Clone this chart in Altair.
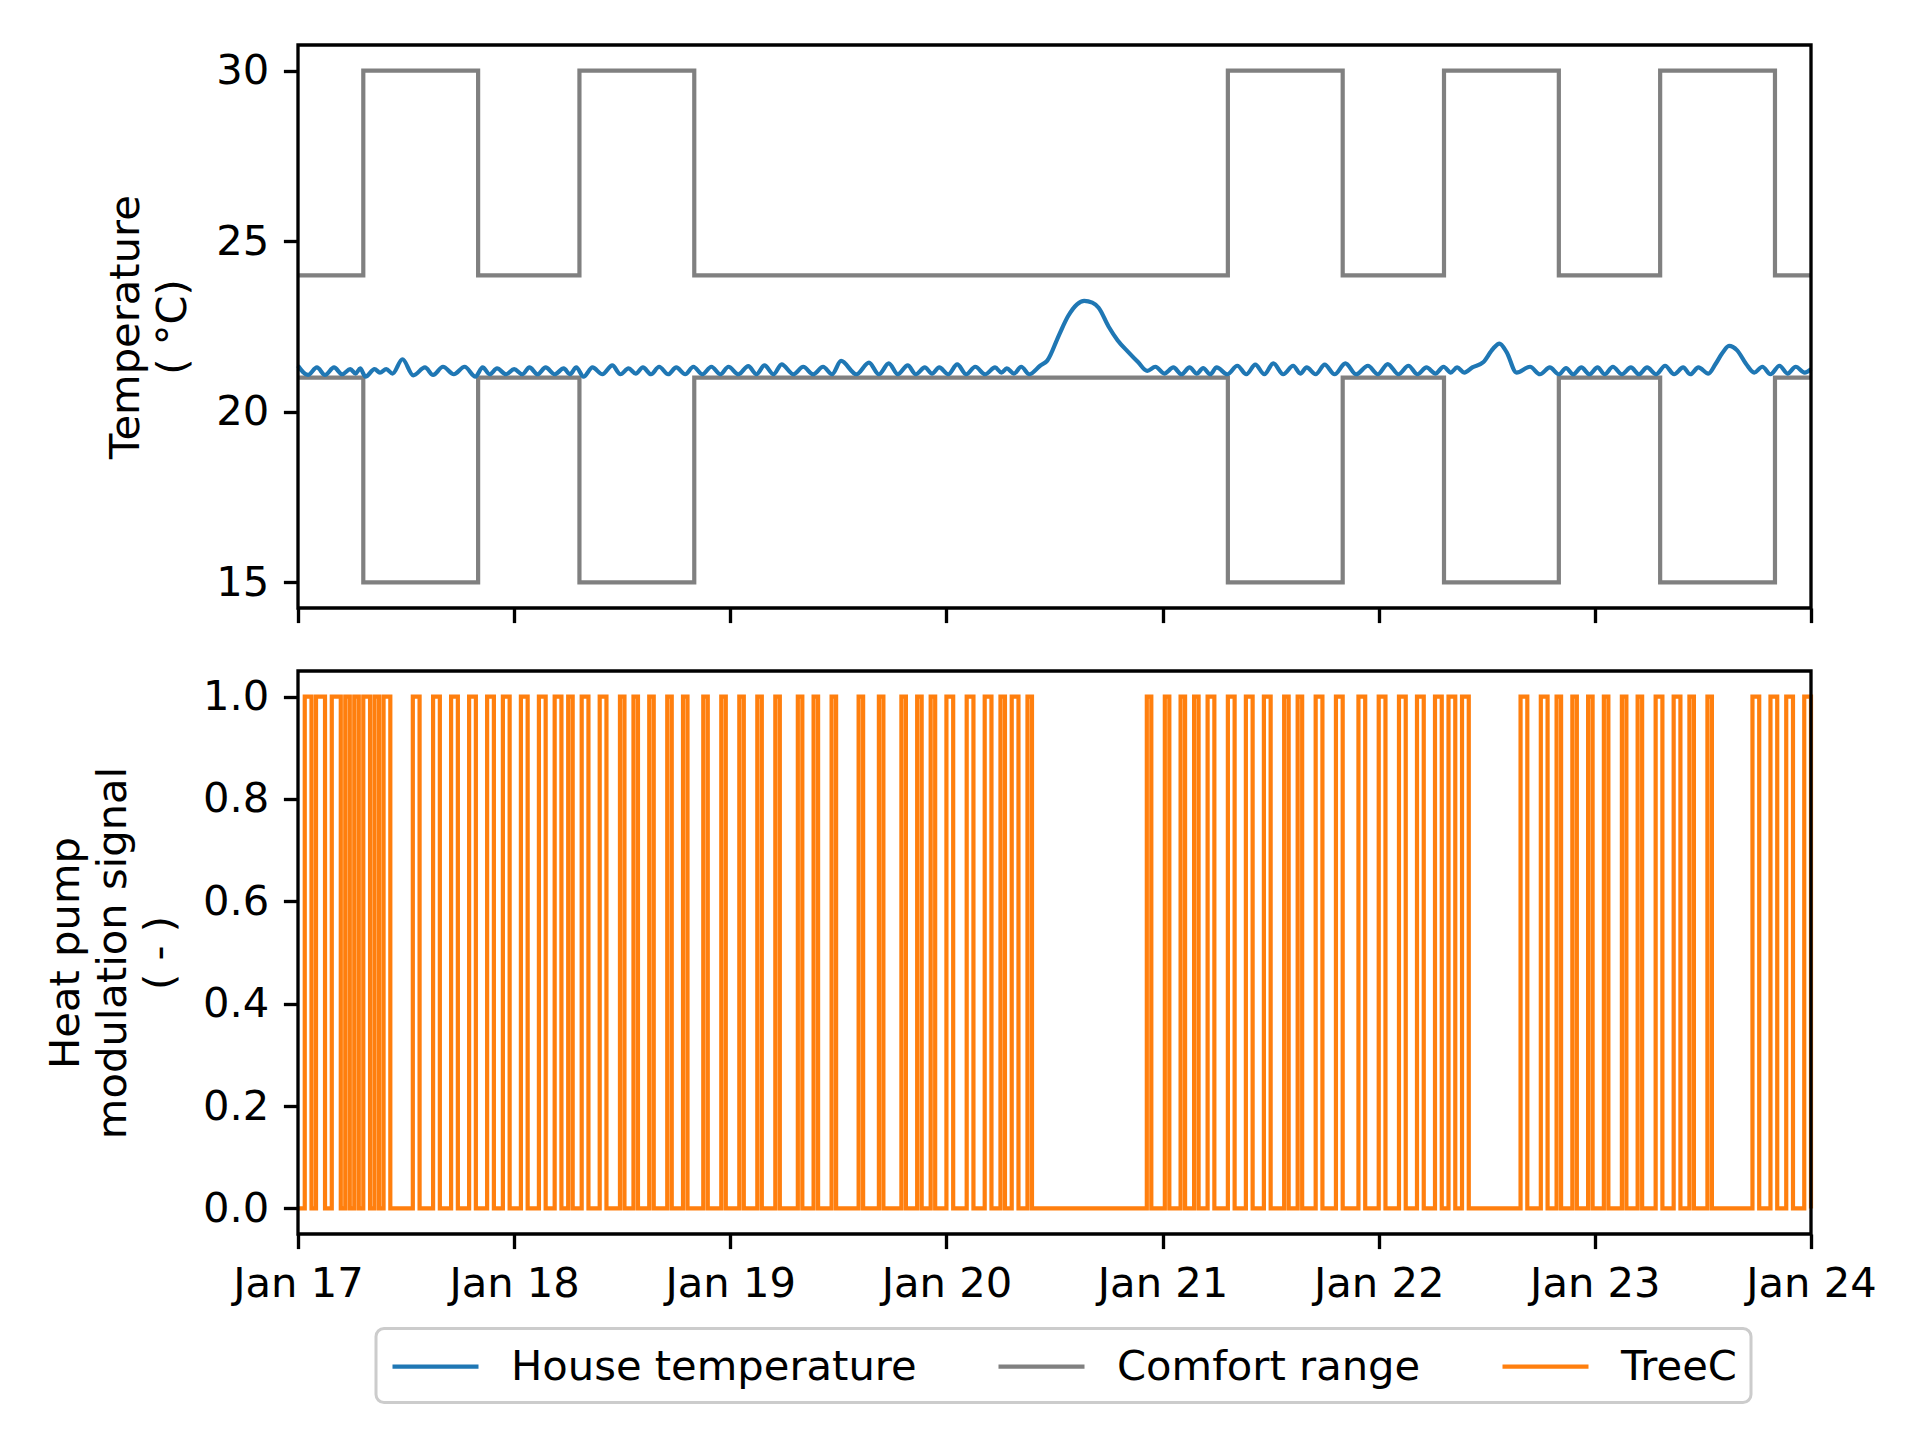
import altair as alt
import pandas as pd

# ---------------- data (hours from Jan 17 00:00) ----------------
BASE = pd.Timestamp("2019-01-17 00:00")
END_HOUR = 168.0

series_names = ["House temperature", "Comfort range", "TreeC"]
series_colors = ["#1f77b4", "#808080", "#ff7f0e"]

# comfort range: wide band periods (start, end hours)
comfort_wide_start_h = [7.25, 31.25, 103.25, 127.25, 151.25]
comfort_wide_end_h = [20.0, 44.0, 116.0, 140.0, 164.0]
comfort_upper = {"narrow": 24.0, "wide": 30.0}
comfort_lower = {"narrow": 21.0, "wide": 15.0}

# heat pump ON pulses: start hour and duration (hours)
pulse_start_day17 = [0.75, 2.0, 3.75, 5.25, 6.25, 7.25, 8.5, 9.5, 12.75, 15.0, 17.0, 19.0, 21.0, 22.75]
pulse_len_day17 = [0.75, 1.0, 1.0, 0.5, 0.5, 0.75, 0.5, 0.75, 0.75, 0.75, 0.75, 0.75, 0.75, 0.75]
pulse_start_day18 = [24.75, 26.75, 28.5, 30.0, 31.5, 33.5, 35.75, 37.25, 39.0, 41.0, 42.75, 45.0, 47.0]
pulse_len_day18 = [0.75, 0.75, 0.75, 0.5, 0.75, 0.75, 0.5, 0.5, 0.5, 0.5, 0.5, 0.5, 0.5]
pulse_start_day19 = [49.0, 51.0, 53.0, 55.5, 57.25, 59.25, 62.25, 64.5, 67.0, 68.75, 70.25]
pulse_len_day19 = [0.5, 0.5, 0.5, 0.5, 0.5, 0.5, 0.5, 0.5, 0.5, 0.5, 0.5]
pulse_start_day20 = [72.0, 74.25, 76.25, 78.0, 79.25, 81.0, 94.25]
pulse_len_day20 = [0.75, 0.75, 0.75, 0.5, 0.75, 0.5, 0.5]
pulse_start_day21 = [96.25, 98.0, 99.5, 101.0, 103.25, 105.25, 107.25, 109.5, 111.0, 113.0, 115.25, 117.75]
pulse_len_day21 = [0.5, 0.5, 0.5, 0.75, 0.75, 0.75, 0.75, 0.5, 0.5, 0.75, 0.75, 0.75]
pulse_start_day22 = [120.0, 122.25, 124.25, 126.25, 127.75, 129.25, 135.75, 138.0, 139.75, 141.5, 143.25]
pulse_len_day22 = [0.75, 0.75, 0.75, 0.75, 0.75, 0.75, 0.75, 0.75, 0.5, 0.5, 0.5]
pulse_start_day23 = [145.0, 147.0, 148.75, 150.75, 152.75, 154.5, 156.5, 161.5, 163.5, 165.25, 167.25]
pulse_len_day23 = [0.5, 0.5, 0.5, 0.75, 0.75, 0.5, 0.5, 0.75, 0.75, 0.75, 0.75]

# house temperature key points (hour, degC)
temp_hours_17_18 = [0.0, 1.1, 2.1, 3.0, 4.0, 4.9, 5.8, 6.4, 6.9, 7.5, 8.5, 9.1, 9.8, 10.5, 11.6, 12.8,
                    14.1, 15.0, 16.1, 17.3, 18.5, 19.7, 20.5, 21.3, 22.1, 23.1, 24.0, 24.9, 25.7, 26.6,
                    27.5, 28.5, 29.5, 30.2, 30.9, 31.7, 32.7, 33.8, 34.9, 35.8, 36.7, 37.5, 38.3, 39.2,
                    40.1, 41.1, 42.0, 43.0, 43.9, 44.9, 45.9, 46.9, 47.8]
temp_values_17_18 = [21.35, 21.08, 21.30, 21.08, 21.30, 21.10, 21.25, 21.12, 21.27, 21.03, 21.25, 21.15,
                     21.25, 21.12, 21.54, 21.07, 21.30, 21.08, 21.32, 21.10, 21.32, 21.03, 21.30, 21.10,
                     21.27, 21.10, 21.25, 21.10, 21.30, 21.10, 21.30, 21.10, 21.27, 21.10, 21.30, 21.03,
                     21.30, 21.10, 21.36, 21.10, 21.27, 21.12, 21.30, 21.10, 21.32, 21.10, 21.30, 21.10,
                     21.32, 21.10, 21.32, 21.10, 21.32]
temp_hours_19_20 = [48.9, 50.0, 50.9, 51.8, 52.8, 53.7, 55.0, 56.1, 57.2, 58.3, 59.3, 60.3, 62.0, 63.4,
                    64.5, 65.6, 66.6, 67.7, 68.6, 69.6, 70.4, 71.2, 72.2, 73.2, 74.2, 75.2, 76.3, 77.4,
                    78.1, 78.7, 79.5, 80.3, 81.2, 82.4, 83.2, 84.5, 85.5, 86.5, 87.3, 88.2, 88.9, 90.0,
                    91.0, 92.2, 93.3, 94.3, 95.2]
temp_values_19_20 = [21.10, 21.34, 21.10, 21.36, 21.10, 21.39, 21.10, 21.32, 21.10, 21.32, 21.10, 21.49,
                     21.10, 21.44, 21.10, 21.42, 21.10, 21.36, 21.10, 21.30, 21.12, 21.30, 21.10, 21.39,
                     21.10, 21.32, 21.10, 21.30, 21.15, 21.27, 21.12, 21.32, 21.10, 21.35, 21.50, 22.25,
                     22.80, 23.15, 23.25, 23.20, 23.05, 22.50, 22.10, 21.75, 21.45, 21.20, 21.32]
temp_hours_21_22 = [96.2, 97.2, 98.1, 99.0, 99.8, 100.5, 101.3, 102.0, 103.2, 104.3, 105.3, 106.3, 107.3,
                    108.3, 109.4, 110.5, 111.3, 112.0, 113.0, 114.0, 115.1, 116.3, 117.5, 118.8, 119.9,
                    121.0, 122.2, 123.3, 124.3, 125.3, 126.3, 127.2, 128.0, 128.7, 129.5, 130.4, 131.6,
                    132.7, 133.4, 134.2, 135.3, 136.8, 137.9, 139.0, 140.0, 140.8, 141.6, 142.5, 143.4]
temp_values_21_22 = [21.12, 21.30, 21.10, 21.30, 21.12, 21.28, 21.10, 21.30, 21.10, 21.35, 21.10, 21.38,
                     21.10, 21.42, 21.10, 21.35, 21.12, 21.30, 21.10, 21.38, 21.10, 21.42, 21.10, 21.35,
                     21.10, 21.40, 21.10, 21.35, 21.10, 21.30, 21.12, 21.32, 21.15, 21.30, 21.15, 21.30,
                     21.45, 21.85, 22.00, 21.75, 21.15, 21.32, 21.10, 21.30, 21.10, 21.28, 21.10, 21.30,
                     21.10]
temp_hours_23 = [144.3, 145.1, 146.0, 147.0, 148.0, 148.9, 149.8, 150.8, 151.8, 152.8, 153.8, 154.6,
                 155.5, 156.6, 157.4, 158.1, 158.9, 159.8, 160.8, 161.7, 162.6, 163.5, 164.5, 165.4,
                 166.3, 167.3, 168.0]
temp_values_23 = [21.30, 21.10, 21.32, 21.10, 21.30, 21.10, 21.30, 21.10, 21.35, 21.10, 21.30, 21.10,
                  21.30, 21.12, 21.40, 21.70, 21.93, 21.80, 21.40, 21.15, 21.32, 21.10, 21.35, 21.12,
                  21.32, 21.15, 21.25]

temp_ticks = [15, 20, 25, 30]
signal_ticks = [0.0, 0.2, 0.4, 0.6, 0.8, 1.0]


def ts(h):
    return BASE + pd.Timedelta(hours=h)


# ---------------- tables ----------------
rows = []
for h, v in zip(temp_hours_17_18 + temp_hours_19_20 + temp_hours_21_22 + temp_hours_23,
                temp_values_17_18 + temp_values_19_20 + temp_values_21_22 + temp_values_23):
    rows.append({"time": ts(h), "value": v, "series": "House temperature"})
temp_df = pd.DataFrame(rows)

rows = []
for bound, lev in (("upper", comfort_upper), ("lower", comfort_lower)):
    rows.append({"time": ts(0.0), "value": lev["narrow"], "bound": bound})
    for s, e in zip(comfort_wide_start_h, comfort_wide_end_h):
        rows.append({"time": ts(s), "value": lev["wide"], "bound": bound})
        rows.append({"time": ts(e), "value": lev["narrow"], "bound": bound})
    rows.append({"time": ts(END_HOUR), "value": lev["narrow"], "bound": bound})
comfort_df = pd.DataFrame(rows)
comfort_df["series"] = "Comfort range"

starts = (pulse_start_day17 + pulse_start_day18 + pulse_start_day19 + pulse_start_day20 +
          pulse_start_day21 + pulse_start_day22 + pulse_start_day23)
lens = (pulse_len_day17 + pulse_len_day18 + pulse_len_day19 + pulse_len_day20 +
        pulse_len_day21 + pulse_len_day22 + pulse_len_day23)
rows = [{"time": ts(0.0), "value": 0.0}]
for s, d in zip(starts, lens):
    rows.append({"time": ts(s), "value": 1.0})
    rows.append({"time": ts(min(s + d, END_HOUR)), "value": 0.0})
if rows[-1]["time"] < ts(END_HOUR):
    rows.append({"time": ts(END_HOUR), "value": 0.0})
pulse_df = pd.DataFrame(rows)
pulse_df["series"] = "TreeC"

# ---------------- styling ----------------
FS = 41.67
LW = 4.2
W, H = 1513, 563
TICK = 14.6

x_scale = alt.Scale(domain=[alt.DateTime(year=2019, month=1, date=17),
                            alt.DateTime(year=2019, month=1, date=24)])
color_scale = alt.Scale(domain=series_names, range=series_colors)
legend = alt.Legend(orient="none", legendX=78, legendY=1283.5, direction="horizontal", title=None,
                    symbolType="M-1,0H3", symbolSize=1849, symbolStrokeWidth=LW, labelFontSize=FS,
                    labelFont="DejaVu Sans", labelOffset=73, columnPadding=73, padding=14,
                    strokeColor="#cccccc", cornerRadius=8, fillColor="white", labelColor="black",
                    labelLimit=2000, symbolOpacity=1)
color = alt.Color("series:N", scale=color_scale, legend=legend)

x_top = alt.X("time:T", scale=x_scale, title=None,
              axis=alt.Axis(labels=False, tickCount=alt.TimeIntervalStep(interval="day", step=1)))
x_bot = alt.X("time:T", scale=x_scale, title=None,
              axis=alt.Axis(format="%b %d", labelFlush=False, labelOverlap=False,
                            tickCount=alt.TimeIntervalStep(interval="day", step=1)))

frame_data = alt.Data(values=[{"a": 1}])


def frame():
    return alt.Chart(frame_data).mark_rect(filled=False, stroke="black", strokeWidth=3.33).encode(
        x=alt.value(0), x2=alt.value(W), y=alt.value(0), y2=alt.value(H))


comfort = alt.Chart(comfort_df).mark_line(interpolate="step-after", strokeWidth=LW).encode(
    x=x_top,
    y=alt.Y("value:Q", scale=alt.Scale(domain=[14.25, 30.75], nice=False, zero=False),
            axis=alt.Axis(values=temp_ticks, title=["Temperature", "( °C)"])),
    color=color, detail="bound:N")
house = alt.Chart(temp_df).mark_line(interpolate="monotone", strokeWidth=LW).encode(
    x=x_top, y="value:Q", color=color)
top = alt.layer(comfort, house, frame()).properties(width=W, height=H)

signal = alt.Chart(pulse_df).mark_line(interpolate="step-after", strokeWidth=LW).encode(
    x=x_bot,
    y=alt.Y("value:Q", scale=alt.Scale(domain=[-0.05, 1.05], nice=False, zero=False),
            axis=alt.Axis(values=signal_ticks, format=".1f",
                          title=["Heat pump", "modulation signal", "( - )"])),
    color=color)
bottom = alt.layer(signal, frame()).properties(width=W, height=H)

chart = alt.vconcat(top, bottom, spacing=44).resolve_scale(color="shared").properties(
    padding={"left": 37, "top": 35, "right": 0, "bottom": 10}
).configure(font="DejaVu Sans").configure_view(strokeWidth=0).configure_legend(
    strokeWidth=3
).configure_axis(
    grid=False, domain=False, labelFont="DejaVu Sans", labelFontSize=FS, labelColor="black",
    tickColor="black", tickWidth=3.33, tickSize=TICK, labelPadding=14.6,
    titleFont="DejaVu Sans", titleFontSize=FS, titleFontWeight="normal", titleColor="black",
    titlePadding=21, titleLineHeight=47
)

chart.save("out.html", embed_options={"renderer": "svg", "actions": False})
